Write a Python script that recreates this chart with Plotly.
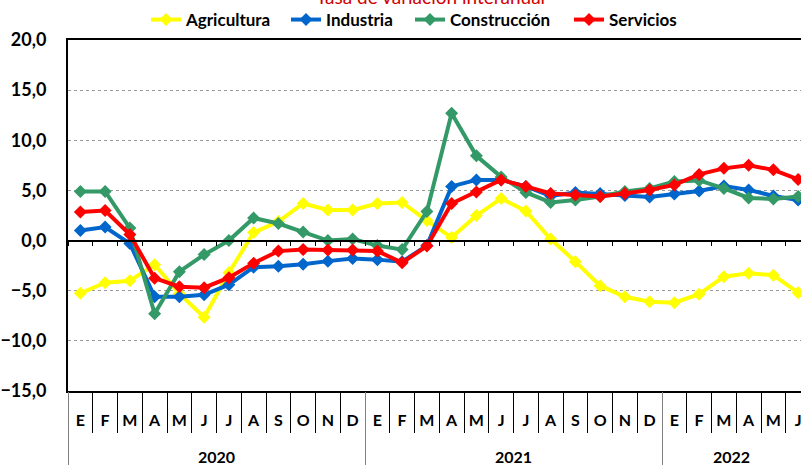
import plotly.graph_objects as go

months = ["E", "F", "M", "A", "M", "J", "J", "A", "S", "O", "N", "D",
          "E", "F", "M", "A", "M", "J", "J", "A", "S", "O", "N", "D",
          "E", "F", "M", "A", "M", "J"]
years = ["2020", "2021", "2022"]
year_lengths = [12, 12, 6]

agricultura = [-5.25, -4.2, -4.0, -2.4, -5.3, -7.65, -3.2, 0.8, 1.9, 3.7, 3.05, 3.05,
               3.7, 3.8, 2.0, 0.3, 2.5, 4.2, 2.95, 0.15, -2.1, -4.5, -5.6, -6.1,
               -6.2, -5.35, -3.6, -3.25, -3.45, -5.2]
industria = [1.0, 1.35, -0.3, -5.6, -5.6, -5.4, -4.4, -2.65, -2.55, -2.35, -2.05, -1.8,
             -1.9, -2.1, -0.5, 5.4, 6.05, 6.05, 5.4, 4.45, 4.8, 4.7, 4.5, 4.35,
             4.65, 4.95, 5.45, 5.05, 4.45, 4.05]
construccion = [4.9, 4.9, 1.25, -7.3, -3.1, -1.4, 0.0, 2.25, 1.7, 0.85, 0.0, 0.15,
                -0.5, -0.9, 2.9, 12.7, 8.45, 6.35, 4.8, 3.8, 4.05, 4.4, 4.9, 5.2,
                5.9, 6.0, 5.2, 4.25, 4.15, 4.4]
servicios = [2.85, 3.0, 0.6, -3.75, -4.6, -4.7, -3.7, -2.25, -1.05, -0.9, -0.95, -0.95,
             -1.05, -2.2, -0.55, 3.7, 4.85, 6.05, 5.4, 4.7, 4.55, 4.4, 4.7, 5.05,
             5.55, 6.6, 7.2, 7.5, 7.05, 6.1]

series = [
    ("Agricultura", agricultura, "#FFFF00"),
    ("Industria", industria, "#0066CC"),
    ("Construcción", construccion, "#339966"),
    ("Servicios", servicios, "#FF0000"),
]
legend_text_x = [187, 327, 451, 610]   # pixel where each legend label starts

FONT = "Lato"
n = len(months)
idx = list(range(n))

W, H = 801, 465
ML, MR, MT, MB = 68, 0, 40, 74
cat_px = 24.75
x0 = -0.5
x1 = x0 + (W - ML - MR) / cat_px
y_range = [-15, 20]
PH = H - MT - MB
PW = W - ML - MR

fig = go.Figure()
legend_names = ["legend", "legend2", "legend3", "legend4"]
for (name, vals, col), lg in zip(series, legend_names):
    fig.add_trace(go.Scatter(
        x=idx, y=vals, name=name, mode="lines+markers",
        line=dict(color=col, width=4),
        marker=dict(symbol="diamond", size=10, color=col),
        hoverinfo="skip", legend=lg,
    ))

# dummy traces for auxiliary axes
for ax in ["x2", "x3", "x4", "x5"]:
    fig.add_trace(go.Scatter(x=[0], y=[None], xaxis=ax, yaxis="y",
                             showlegend=False, hoverinfo="skip", mode="lines"))

boundaries = [i + 0.5 for i in range(-1, n)]
year_bounds = [-0.5]
acc = -0.5
for L in year_lengths[:-1]:
    acc += L
    year_bounds.append(acc)
year_centers = []
start = -0.5
for L in year_lengths:
    end = min(start + L, x1)
    year_centers.append((start + end) / 2)
    start += L

common = dict(range=[x0, x1], showgrid=False, zeroline=False)
bold = dict(family=FONT, size=16, color="black", weight="bold")

legends = {}
for lg, tx in zip(legend_names, legend_text_x):
    legends[lg] = dict(orientation="h", x=(tx - 41 - ML) / PW, y=1 + 20 / PH,
                       xanchor="left", yanchor="middle",
                       font=dict(family=FONT, size=17, color="black", weight="bold"),
                       bgcolor="rgba(0,0,0,0)")

fig.update_layout(
    width=W, height=H,
    margin=dict(l=ML, r=MR, t=MT, b=MB, pad=0, autoexpand=False),
    paper_bgcolor="white", plot_bgcolor="white",
    separators=", ",
    font=dict(family=FONT, color="black"),
    showlegend=True,
    **legends,
    xaxis=dict(**common, showline=True, mirror=True, linecolor="black", linewidth=2,
               tickmode="array", tickvals=boundaries, ticks="outside", ticklen=40,
               tickcolor="black", tickwidth=1, showticklabels=False),
    xaxis2=dict(**common, overlaying="x", anchor="y", side="bottom", showline=False,
                tickmode="array", tickvals=idx, ticktext=months, ticks="",
                ticklabelstandoff=18, tickfont=bold, ticklabeloverflow="allow"),
    xaxis3=dict(**common, overlaying="x", anchor="y", side="bottom", showline=False,
                tickmode="array", tickvals=year_bounds, ticks="outside", ticklen=74,
                tickcolor="#808080", tickwidth=1, showticklabels=False),
    xaxis4=dict(**common, overlaying="x", anchor="y", side="bottom", showline=False,
                tickmode="array", tickvals=year_centers, ticktext=years, ticks="",
                ticklabelstandoff=55, tickfont=bold, ticklabeloverflow="allow"),
    xaxis5=dict(**common, overlaying="x", anchor="free",
                position=(0 - y_range[0]) / (y_range[1] - y_range[0]),
                side="bottom", showline=True, linecolor="black", linewidth=1.5,
                tickmode="array", tickvals=boundaries, ticks="outside", ticklen=5,
                tickcolor="black", tickwidth=1, showticklabels=False),
    yaxis=dict(range=y_range, tickmode="linear", tick0=-15, dtick=5, tickformat=".1f",
               showline=True, linecolor="black", linewidth=2, zeroline=False,
               showgrid=True, gridcolor="#9a9a9a", griddash="dot", gridwidth=1,
               ticks="", ticklabelstandoff=16,
               tickfont=dict(family=FONT, size=18, color="black", weight="bold")),
    annotations=[dict(text="Tasa de variación interanual", xref="paper", yref="paper",
                      x=(430 - ML) / PW, y=1 + 43 / PH,
                      xanchor="center", yanchor="middle", showarrow=False,
                      font=dict(family=FONT, size=19, color="#D00000"))],
)

fig.write_html("out.html", config={"displayModeBar": False},
               post_script="document.body.style.margin='0';document.body.style.overflow='hidden';")
